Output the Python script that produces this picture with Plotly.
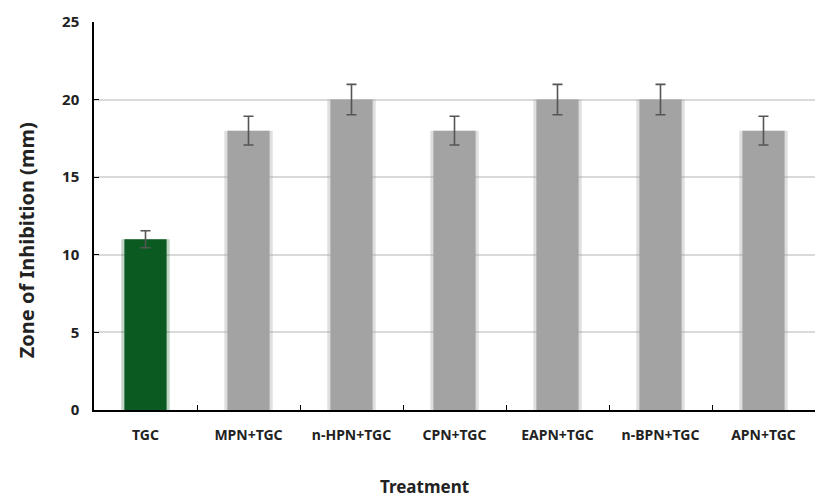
import plotly.graph_objects as go

categories = ["TGC", "MPN+TGC", "n-HPN+TGC", "CPN+TGC", "EAPN+TGC", "n-BPN+TGC", "APN+TGC"]
values = [11, 18, 20, 18, 20, 20, 18]
errors = [0.55, 0.93, 0.98, 0.93, 0.98, 0.98, 0.93]
bar_colors = ["#0b5a22", "#a3a3a3", "#a3a3a3", "#a3a3a3", "#a3a3a3", "#a3a3a3", "#a3a3a3"]
shadow_colors = ["rgba(11,90,34,0.25)"] + ["rgba(163,163,163,0.35)"] * 6
y_ticks = [0, 5, 10, 15, 20, 25]

fig = go.Figure()
# soft shadow halo behind bars
fig.add_trace(go.Bar(x=categories, y=values, width=0.47, marker=dict(color=shadow_colors, line=dict(width=0)),
                     hoverinfo="skip", showlegend=False))
fig.add_trace(go.Bar(x=categories, y=values, width=0.41, marker=dict(color=bar_colors, line=dict(width=0)),
                     error_y=dict(type="data", array=errors, visible=True, color="#555555", thickness=1.6, width=5),
                     showlegend=False))

font_family = "Noto Sans, Open Sans, Arial, sans-serif"
fig.update_layout(
    width=818, height=499,
    margin=dict(l=94, r=3, t=22, b=89),
    barmode="overlay",
    plot_bgcolor="white", paper_bgcolor="white",
    font=dict(family=font_family, color="#222222"),
    xaxis=dict(
        showline=True, linecolor="black", linewidth=1.5,
        ticks="inside", tickson="boundaries", ticklen=5, tickcolor="black",
        tickfont=dict(size=14, family=font_family, weight="bold", color="#222222"),
        ticklabelstandoff=11,
        showgrid=False,
    ),
    yaxis=dict(
        range=[0, 25], tickvals=y_ticks,
        showline=True, linecolor="black", linewidth=1.5,
        ticks="inside", ticklen=5, tickcolor="black",
        showgrid=True, gridcolor="#d9d9d9", gridwidth=1.5,
        zeroline=False,
        tickfont=dict(size=15, family=font_family, weight="bold", color="#222222"),
        ticklabelstandoff=10,
    ),
    annotations=[
        dict(text="Treatment", xref="paper", yref="paper", x=0.459, y=-0.196,
             xanchor="center", yanchor="middle", showarrow=False,
             font=dict(size=17, weight="bold", color="#222222", family=font_family)),
        dict(text="Zone of Inhibition (mm)", xref="paper", yref="paper", x=-0.094, y=0.438,
             xanchor="center", yanchor="middle", showarrow=False, textangle=-90,
             font=dict(size=20, weight="bold", color="#222222", family=font_family)),
    ],
)

fig.write_html("out.html")
